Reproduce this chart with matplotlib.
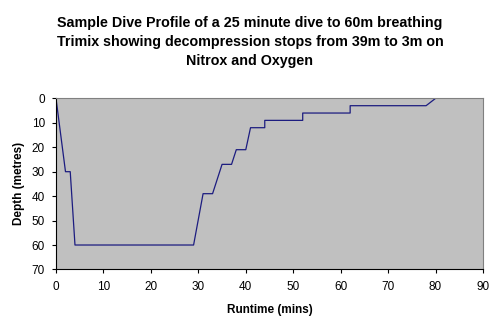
import matplotlib.pyplot as plt

plt.rcParams["font.family"] = ["Liberation Sans", "DejaVu Sans"]

# runtime (mins) and depth (metres) at each profile waypoint
runtime = [0, 2, 3, 4, 29, 31, 33, 35, 37, 38, 40, 41, 44, 44, 52, 52, 62, 62, 78, 80]
depth = [0, 30, 30, 60, 60, 39, 39, 27, 27, 21, 21, 12, 12, 9, 9, 6, 6, 3, 3, 0]

x_ticks = list(range(0, 91, 10))
y_ticks = list(range(0, 71, 10))

TITLE = ("Sample Dive Profile of a 25 minute dive to 60m breathing\n"
         "Trimix showing decompression stops from 39m to 3m on\n"
         "Nitrox and Oxygen")


def main():
    fig = plt.figure(figsize=(5.0, 3.29), dpi=100)
    ax = fig.add_axes([0.112, 0.181, 0.854, 0.520])
    ax.set_facecolor("#c0c0c0")

    ax.plot(runtime, depth, color="#1c1c80", linewidth=0.9)

    ax.set_xlim(0, 90)
    ax.set_ylim(70, 0)
    ax.set_xticks(x_ticks)
    ax.set_yticks(y_ticks)
    ax.tick_params(labelsize=8.5, length=3, width=0.8, color="black", pad=5)

    for side in ("top", "right"):
        ax.spines[side].set_color("#808080")
    for side in ("left", "bottom"):
        ax.spines[side].set_color("black")

    ax.set_xlabel("Runtime (mins)", fontsize=8.5, fontweight="bold", labelpad=8)
    ax.set_ylabel("Depth (metres)", fontsize=8.5, fontweight="bold", labelpad=5)

    fig.text(0.5, 0.95, TITLE, ha="center", va="top", fontsize=10.3,
             fontweight="bold", linespacing=1.45)

    fig.savefig("out.png", dpi=100)
    plt.close(fig)


if __name__ == "__main__":
    main()
